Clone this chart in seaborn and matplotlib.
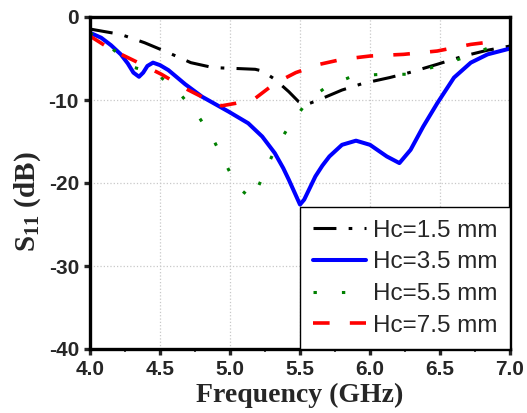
import numpy as np
import pandas as pd
import matplotlib
matplotlib.use("Agg")
import matplotlib.pyplot as plt
import seaborn as sns

# S11 curves (frequency in GHz, S11 in dB)
f_15 = [4.0, 4.22, 4.39, 4.56, 4.72, 4.88, 5.04, 5.18, 5.23, 5.32, 5.42, 5.49, 5.54,
        5.66, 5.80, 5.95, 6.14, 6.28, 6.48, 6.67, 6.84, 7.0]
s_15 = [-1.45, -2.1, -3.1, -4.3, -5.5, -6.1, -6.2, -6.3, -6.5, -7.5, -9.0, -10.2, -10.6,
        -9.8, -8.8, -8.0, -7.3, -6.7, -5.7, -4.7, -4.0, -3.5]

f_35 = [4.0, 4.08, 4.15, 4.22, 4.27, 4.31, 4.35, 4.38, 4.41, 4.45, 4.50, 4.56, 4.68,
        4.80, 4.99, 5.13, 5.23, 5.32, 5.38, 5.42, 5.46, 5.50, 5.53, 5.57, 5.61, 5.66,
        5.71, 5.80, 5.90, 6.0, 6.12, 6.21, 6.29, 6.38, 6.48, 6.60, 6.72, 6.84, 7.0]
s_35 = [-1.9, -2.5, -3.4, -4.5, -5.6, -6.7, -7.2, -6.7, -5.9, -5.5, -5.8, -6.4, -8.1,
        -9.6, -11.4, -12.8, -14.4, -16.4, -18.2, -19.6, -21.1, -22.6, -22.0, -20.6, -19.2, -17.9,
        -16.8, -15.4, -14.9, -15.4, -16.8, -17.6, -16.0, -13.2, -10.4, -7.3, -5.5, -4.5, -3.8]

f_55 = [4.0, 4.15, 4.32, 4.48, 4.63, 4.76, 4.87, 4.96, 5.05, 5.16, 5.24, 5.32, 5.42,
        5.53, 5.61, 5.69, 5.88, 6.09, 6.27, 6.48, 6.67, 6.85, 6.93]
s_55 = [-1.9, -3.7, -6.1, -6.9, -9.0, -11.6, -14.4, -17.4, -20.4, -22.0, -19.0, -16.0, -13.2,
        -10.7, -9.4, -8.4, -7.1, -6.9, -6.9, -5.9, -4.9, -3.7, -3.3]

f_75 = [4.0, 4.15, 4.32, 4.51, 4.68, 4.82, 4.94, 5.04, 5.18, 5.32, 5.47, 5.64, 5.80,
        6.0, 6.24, 6.48, 6.72, 6.91]
s_75 = [-2.3, -3.9, -5.3, -6.9, -8.6, -9.8, -10.7, -10.4, -9.8, -8.0, -6.7, -5.7, -5.1,
        -4.7, -4.5, -4.1, -3.3, -2.9]

labels = ["Hc=1.5 mm", "Hc=3.5 mm", "Hc=5.5 mm", "Hc=7.5 mm"]
colors = ["black", "#0000ff", "#008000", "#ff0000"]

sns.set_style("white")
plt.rcParams["font.family"] = ["Liberation Sans", "DejaVu Sans"]
plt.rcParams["axes.unicode_minus"] = False
plt.rcParams["mathtext.fontset"] = "custom"
plt.rcParams["mathtext.rm"] = "Liberation Serif:bold"
plt.rcParams["mathtext.bf"] = "Liberation Serif:bold"

fig = plt.figure(figsize=(5.27, 4.13), dpi=100)
ax = fig.add_axes([90 / 527, (413 - 349) / 413, 420 / 527, 332 / 413])

styles = [dict(lw=2.2, ls=(0, (7.5, 4, 1.2, 4))),
          dict(lw=2.9, ls="-"),
          dict(lw=2.2, ls=(0, (1.1, 8.2))),
          dict(lw=2.6, ls=(0, (4.6, 5.6)))]
series = [(f_15, s_15), (f_35, s_35), (f_55, s_55), (f_75, s_75)]
for (f, s), lab, c, st in zip(series, labels, colors, styles):
    df = pd.DataFrame({"f": f, "s": s})
    sns.lineplot(data=df, x="f", y="s", ax=ax, color=c, label=lab,
                 linewidth=st["lw"], linestyle=st["ls"], dash_capstyle="butt",
                 solid_capstyle="round")

ax.set_xlim(4.0, 7.0)
ax.set_ylim(-40, 0)
ax.set_xticks(np.arange(4.0, 7.01, 0.5))
ax.set_xticks(np.arange(4.25, 7.0, 0.5), minor=True)
ax.set_yticks([0, -10, -20, -30, -40])
ax.set_xticklabels(["4.0", "4.5", "5.0", "5.5", "6.0", "6.5", "7.0"])
ax.grid(True, which="major", color="#c8c8c8", linestyle=":", linewidth=0.9)
for sp in ax.spines.values():
    sp.set_linewidth(2.4)
    sp.set_color("black")
ax.tick_params(axis="both", which="major", direction="out", length=4, width=2.4,
               labelsize=15, pad=4, bottom=True, left=True)
ax.tick_params(axis="x", which="minor", direction="out", length=2, width=1.2, bottom=True)
for t in ax.get_xticklabels() + ax.get_yticklabels():
    t.set_fontweight("bold")

ax.set_xlabel("Frequency (GHz)", family="Liberation Serif", fontweight="bold",
              fontsize=20, labelpad=3)
ax.set_ylabel(r"S$_{\mathbf{11}}$ (dB)", family="Liberation Serif", fontweight="bold",
              fontsize=21)
ax.yaxis.set_label_coords(-0.112, 0.443)

leg = ax.legend(loc="lower right", borderaxespad=0, fontsize=17.5, frameon=True,
                fancybox=False, edgecolor="black", framealpha=1,
                handlelength=2.2, handletextpad=0.3, labelspacing=0.4,
                borderpad=0.5)
leg.get_frame().set_linewidth(1.0)

fig.savefig("out.png", dpi=100)
